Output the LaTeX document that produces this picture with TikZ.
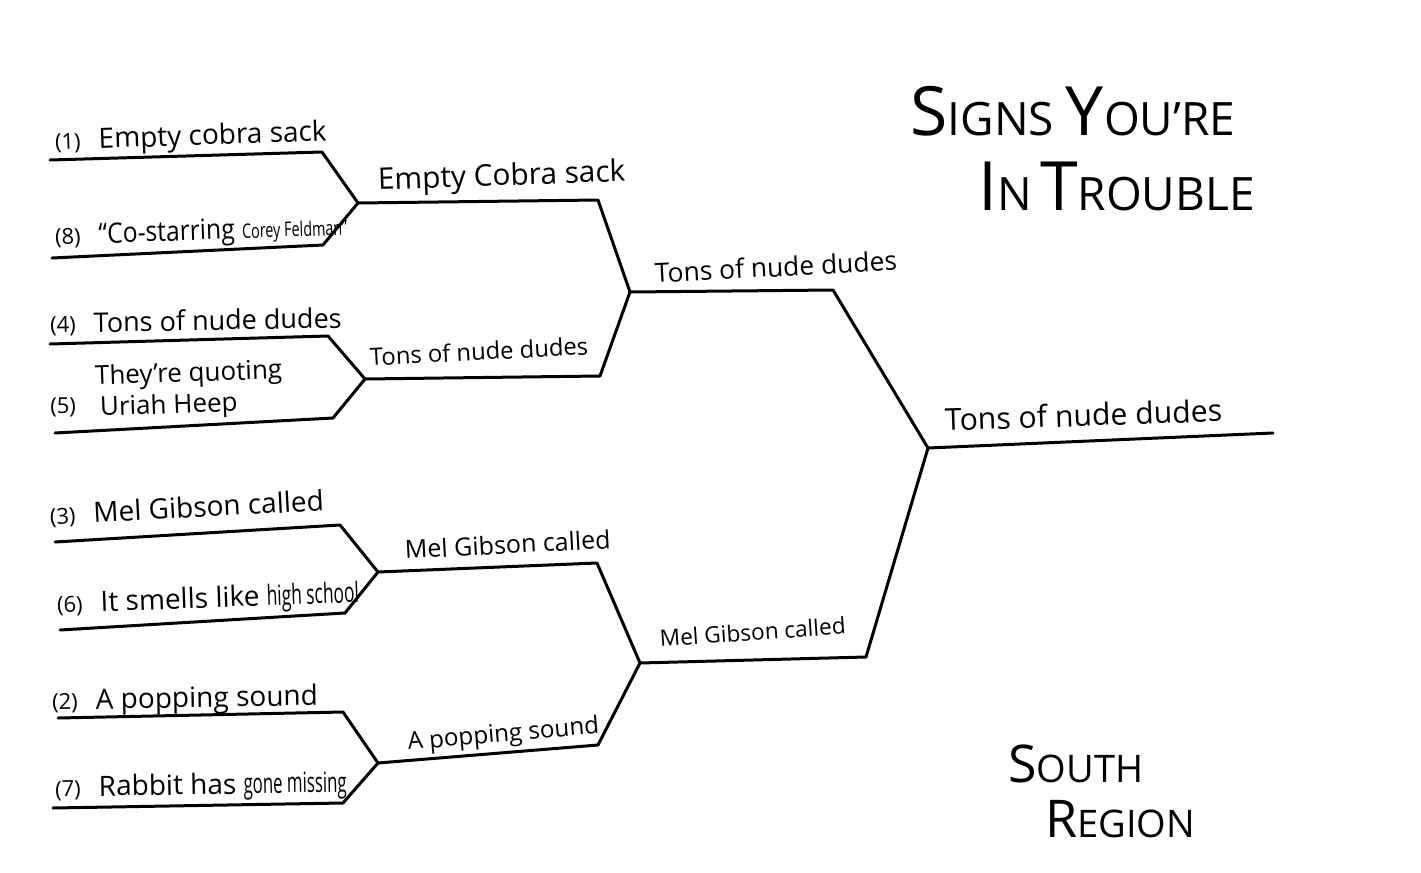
\documentclass[tikz,border=0pt]{standalone}
\usepackage{fontspec}
\setmainfont{Open Sans}
\usetikzlibrary{positioning}

\newcommand{\seednum}[1]{{\fontsize{11}{12}\selectfont(#1)}\hspace{9pt}}
\newcommand{\squeeze}[2]{\scalebox{#1}[1]{#2}}
\newcommand{\capsc}[2]{{\fontsize{34}{36}\selectfont #1}{\fontsize{23}{26}\selectfont #2}}
\newcommand{\regsc}[2]{{\fontsize{26}{30}\selectfont #1}{\fontsize{19}{22}\selectfont #2}}

\begin{document}
\begin{tikzpicture}[x=0.5pt,y=-0.5pt,
    bracket/.style={line width=1.5pt, line join=round, line cap=round},
    seed/.style={anchor=base west, inner sep=0pt, font=\fontsize{14}{16}\selectfont},
    pick/.style={anchor=base west, inner sep=0pt, font=\fontsize{#1}{16}\selectfont},
    pick/.default=13,
    heading/.style={anchor=base west, inner sep=0pt}
]
\useasboundingbox (0,0) rectangle (1421,873);

% First round
\coordinate (s1a) at (50,160);  \coordinate (s1b) at (322,152);
\coordinate (s8a) at (52,258);  \coordinate (s8b) at (323,245);
\coordinate (s4a) at (50,344);  \coordinate (s4b) at (328,336);
\coordinate (s5a) at (55,433);  \coordinate (s5b) at (333,418);
\coordinate (s3a) at (55,542);  \coordinate (s3b) at (340,525);
\coordinate (s6a) at (60,630);  \coordinate (s6b) at (345,613);
\coordinate (s2a) at (58,718);  \coordinate (s2b) at (343,712);
\coordinate (s7a) at (53,808);  \coordinate (s7b) at (343,803);
\coordinate (j18) at (358,203);
\coordinate (j45) at (365,379);
\coordinate (j36) at (378,572);
\coordinate (j27) at (378,763);

% Second round
\coordinate (w1) at (598,200);
\coordinate (w2) at (600,376);
\coordinate (w3) at (597,563);
\coordinate (w4) at (598,745);
\coordinate (jtop) at (630,292);
\coordinate (jbot) at (640,663);

% Semifinal and final
\coordinate (f1) at (833,290);
\coordinate (f2) at (866,657);
\coordinate (jfin) at (928,448);
\coordinate (champ) at (1273,433);

% Bracket lines
\draw[bracket] (s1a) -- (s1b) -- (j18) -- (s8b) -- (s8a);
\draw[bracket] (s4a) -- (s4b) -- (j45) -- (s5b) -- (s5a);
\draw[bracket] (s3a) -- (s3b) -- (j36) -- (s6b) -- (s6a);
\draw[bracket] (s2a) -- (s2b) -- (j27) -- (s7b) -- (s7a);
\draw[bracket] (j18) -- (w1) -- (jtop) -- (w2) -- (j45);
\draw[bracket] (j36) -- (w3) -- (jbot) -- (w4) -- (j27);
\draw[bracket] (jtop) -- (f1) -- (jfin) -- (f2) -- (jbot);
\draw[bracket] (jfin) -- (champ);

% Seeds
\node[seed, rotate=2] (t1) at (55,150) {\seednum{1}Empty cobra sack};
\node[seed, rotate=2] (t8) at (55,245) {\seednum{8}\squeeze{0.88}{“Co-starring} \squeeze{0.72}{\fontsize{10}{11}\selectfont Corey Feldman”}};
\node[seed, rotate=1, font=\fontsize{13.5}{16}\selectfont] (t4) at (50,333) {\seednum{4}Tons of nude dudes};
\node[seed] (t5) at (50,413) {\seednum{5}};
\node[seed, rotate=2, font=\fontsize{13}{15}\selectfont] (t5a) at (95,385) {They’re quoting};
\node[seed, rotate=2, font=\fontsize{13}{15}\selectfont] (t5b) at (100,416) {Uriah Heep};
\node[seed, rotate=3] (t3) at (50,525) {\seednum{3}Mel Gibson called};
\node[seed, rotate=2] (t6) at (57,613) {\seednum{6}It smells like \squeeze{0.62}{high school}};
\node[seed, rotate=1] (t2) at (52,710) {\seednum{2}A popping sound};
\node[seed, rotate=1] (t7) at (55,797) {\seednum{7}Rabbit has \squeeze{0.6}{gone missing}};

% Winners
\node[pick=14.9, rotate=2] (p1) at (378,190) {Empty Cobra sack};
\node[pick=11.9, rotate=3] (p2) at (370,366) {Tons of nude dudes};
\node[pick=12.5, rotate=3] (p3) at (405,559) {Mel Gibson called};
\node[pick=12.1, rotate=5] (p4) at (408,750) {A popping sound};
\node[pick=13.2, rotate=3] (q1) at (655,283) {Tons of nude dudes};
\node[pick=11.3, rotate=4] (q2) at (660,647) {Mel Gibson called};
\node[pick=15.1, rotate=2] (winner) at (945,431) {Tons of nude dudes};

% Headings
\node[heading] (title1) at (910,135) {\capsc{S}{IGNS}\hspace{6pt}\capsc{Y}{OU’RE}};
\node[heading] (title2) at (978,210) {\capsc{I}{N}\hspace{4pt}\capsc{T}{ROUBLE}};
\node[heading] (region1) at (1008,782) {\regsc{S}{OUTH}};
\node[heading] (region2) at (1045,837) {\regsc{R}{EGION}};

\end{tikzpicture}
\end{document}
